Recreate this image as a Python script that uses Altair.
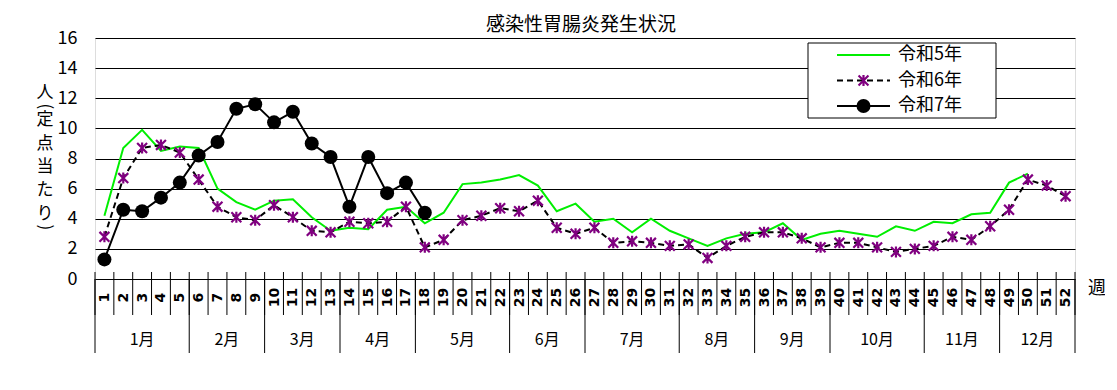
import altair as alt
import pandas as pd

# ---------------- data ----------------
title_text = "感染性胃腸炎発生状況"
series_names = ["令和5年", "令和6年", "令和7年"]
weeks = list(range(1, 53))
month_names = ["1月", "2月", "3月", "4月", "5月", "6月",
               "7月", "8月", "9月", "10月", "11月", "12月"]
weeks_per_month = [5, 4, 4, 4, 5, 4, 5, 4, 4, 5, 4, 4]
y_ticks = [0, 2, 4, 6, 8, 10, 12, 14, 16]
y_title_chars = ["人", "(", "定", "点", "当", "た", "り", ")"]
week_unit = "週"

r5 = [4.2, 8.7, 9.9, 8.5, 8.8, 8.7, 6.0, 5.1, 4.6, 5.2,
      5.3, 4.1, 3.2, 3.4, 3.3, 4.6, 4.8, 3.7, 4.4, 6.3,
      6.4, 6.6, 6.9, 6.2, 4.5, 5.0, 3.8, 4.0, 3.1, 4.0,
      3.2, 2.7, 2.2, 2.7, 3.0, 3.1, 3.7, 2.6, 3.0, 3.2,
      3.0, 2.8, 3.5, 3.2, 3.8, 3.7, 4.3, 4.4, 6.4, 7.0]
r6 = [2.8, 6.7, 8.7, 8.9, 8.4, 6.6, 4.8, 4.1, 3.9, 4.9,
      4.1, 3.2, 3.1, 3.8, 3.7, 3.8, 4.8, 2.1, 2.6, 3.9,
      4.2, 4.7, 4.5, 5.2, 3.4, 3.0, 3.4, 2.4, 2.5, 2.4,
      2.2, 2.3, 1.4, 2.2, 2.8, 3.1, 3.1, 2.7, 2.1, 2.4,
      2.4, 2.1, 1.8, 2.0, 2.2, 2.8, 2.6, 3.5, 4.6, 6.6,
      6.2, 5.5]
r7 = [1.3, 4.6, 4.5, 5.4, 6.4, 8.2, 9.1, 11.3, 11.6, 10.4,
      11.1, 9.0, 8.1, 4.8, 8.1, 5.7, 6.4, 4.4]

# ---------------- tables ----------------
df5 = pd.DataFrame({"week": weeks[:len(r5)], "value": r5, "series": series_names[0]})
df6 = pd.DataFrame({"week": weeks[:len(r6)], "value": r6, "series": series_names[1]})
df7 = pd.DataFrame({"week": weeks[:len(r7)], "value": r7, "series": series_names[2]})

week_bounds = pd.DataFrame({"b": [weeks[0] - 0.5] + [w + 0.5 for w in weeks]})
starts, mb = [], [weeks[0] - 0.5]
s = 1
for n in weeks_per_month:
    starts.append(s)
    s += n
    mb.append(s - 0.5)
month_bounds = pd.DataFrame({"b": mb})
month_df = pd.DataFrame({
    "name": month_names,
    "center": [st + (n - 1) / 2 for st, n in zip(starts, weeks_per_month)],
})
one = pd.DataFrame({"t": [week_unit]})

# vertical y-axis caption: stack characters (layout computed here)
PAREN = {"(", ")"}
ys, cur = [], 42.85
for ch in y_title_chars:
    step = 4.5 if ch in PAREN else 23.3
    ys.append(cur + step / 2)
    cur += step
ytitle_df = pd.DataFrame({"ch": y_title_chars, "py": ys})

# ---------------- styling ----------------
W, H = 980, 241
JP = "Noto Sans CJK JP"
BG = "#FDE9D9"
GREEN = "#00EE00"
PURPLE = "#800080"
STAR = "M0,-1L0,1M-0.9,-0.9L0.9,0.9M-0.9,0.9L0.9,-0.9"

xscale = alt.Scale(domain=[0.5, 52.5], nice=False, zero=False)
yscale = alt.Scale(domain=[0, 16], nice=False, zero=True)

x_axis = alt.Axis(values=weeks, labelAngle=270, labelAlign="center",
                  labelBaseline="middle", labelPadding=18, ticks=False,
                  tickSize=0, domain=False, grid=False, title=None,
                  labelFont="DejaVu Sans", labelFontWeight="bold",
                  labelFontSize=14, labelColor="black", labelOverlap=False,
                  labelFlush=False)
y_axis = alt.Axis(values=y_ticks, grid=True, gridColor="black", gridWidth=1,
                  gridOpacity=1, ticks=False, domain=False, labelPadding=18,
                  labelFontSize=18, labelFont=JP, labelColor="black",
                  title=None)

X = alt.X("week:Q", scale=xscale, axis=x_axis)
Y = alt.Y("value:Q", scale=yscale, axis=y_axis)

line5 = alt.Chart(df5).mark_line(color=GREEN, strokeWidth=2).encode(x=X, y=Y)
line6 = alt.Chart(df6).mark_line(color="black", strokeWidth=2,
                                 strokeDash=[6, 4]).encode(x=X, y=Y)
pts6 = alt.Chart(df6).mark_point(shape=STAR, size=121, stroke=PURPLE,
                                 strokeWidth=2.2, filled=False,
                                 opacity=1).encode(x=X, y=Y)
line7 = alt.Chart(df7).mark_line(color="black", strokeWidth=2).encode(x=X, y=Y)
pts7 = alt.Chart(df7).mark_point(shape="circle", size=196, filled=True,
                                 color="black", opacity=1).encode(x=X, y=Y)

XB = alt.X("b:Q", scale=xscale, axis=x_axis)
wsep = alt.Chart(week_bounds).mark_rule(color="black", strokeWidth=1).encode(
    x=XB, y=alt.value(H - 7), y2=alt.value(H + 36))
msep = alt.Chart(month_bounds).mark_rule(color="black", strokeWidth=1).encode(
    x=XB, y=alt.value(H), y2=alt.value(H + 74))
mlab = alt.Chart(month_df).mark_text(font=JP, fontSize=16, color="black",
                                     align="center", baseline="middle").encode(
    x=alt.X("center:Q", scale=xscale, axis=x_axis),
    y=alt.value(H + 61), text="name:N")
unit = alt.Chart(one).mark_text(font=JP, fontSize=18, color="black",
                                align="center", baseline="middle").encode(
    x=alt.value(W + 22), y=alt.value(H + 10), text="t:N")

# chart title as text above the plot
title_mark = alt.Chart(pd.DataFrame({"t": [title_text]})).mark_text(
    font=JP, fontSize=19, color="black", align="center", baseline="middle"
).encode(x=alt.value(W / 2 - 4), y=alt.value(-13), text="t:N")

# vertical y caption
ycap_chars = alt.Chart(ytitle_df).transform_filter(
    "datum.ch != '(' && datum.ch != ')'"
).mark_text(font=JP, fontSize=17, color="black", align="center",
            baseline="middle").encode(
    x=alt.value(-50), y=alt.Y("py:Q", scale=None), text="ch:N")
ycap_paren = alt.Chart(ytitle_df).transform_filter(
    "datum.ch == '(' || datum.ch == ')'"
).mark_text(font=JP, fontSize=17, color="black", align="center",
            baseline="middle", angle=90).encode(
    x=alt.value(-50), y=alt.Y("py:Q", scale=None), text="ch:N")

# legend box
leg_box = alt.Chart(one).mark_rect(fill="white", stroke="black",
                                   strokeWidth=1).encode(
    x=alt.value(713), x2=alt.value(901), y=alt.value(5), y2=alt.value(80))
leg_layers = [leg_box]
for i, name in enumerate(series_names):
    ly = 17 + 25.5 * i
    d = pd.DataFrame({"t": [name]})
    if i == 0:
        leg_layers.append(alt.Chart(d).mark_rule(color=GREEN, strokeWidth=2).encode(
            x=alt.value(742), x2=alt.value(795), y=alt.value(ly)))
    elif i == 1:
        leg_layers.append(alt.Chart(d).mark_rule(color="black", strokeWidth=2,
                                                 strokeDash=[6, 4]).encode(
            x=alt.value(742), x2=alt.value(795), y=alt.value(ly)))
        leg_layers.append(alt.Chart(d).mark_point(shape=STAR, size=121,
                                                  stroke=PURPLE, strokeWidth=2.2,
                                                  filled=False, opacity=1).encode(
            x=alt.value(768.5), y=alt.value(ly)))
    else:
        leg_layers.append(alt.Chart(d).mark_rule(color="black", strokeWidth=2).encode(
            x=alt.value(742), x2=alt.value(795), y=alt.value(ly)))
        leg_layers.append(alt.Chart(d).mark_point(shape="circle", size=196,
                                                  filled=True, color="black",
                                                  opacity=1).encode(
            x=alt.value(768.5), y=alt.value(ly)))
    leg_layers.append(alt.Chart(d).mark_text(font=JP, fontSize=18, color="black",
                                             align="left", baseline="middle").encode(
        x=alt.value(803), y=alt.value(ly), text="t:N"))

chart = alt.layer(
    line5, line6, pts6, line7, pts7, wsep, msep, mlab, unit, title_mark,
    ycap_chars, ycap_paren, *leg_layers
).properties(
    width=W, height=H,
    autosize="none",
    padding={"left": 87, "top": 30, "right": 30, "bottom": 95},
).configure_view(
    fill=BG, stroke="black", strokeWidth=1
).configure(background="white")

chart.save("out.html", embed_options={"renderer": "svg", "actions": False})
